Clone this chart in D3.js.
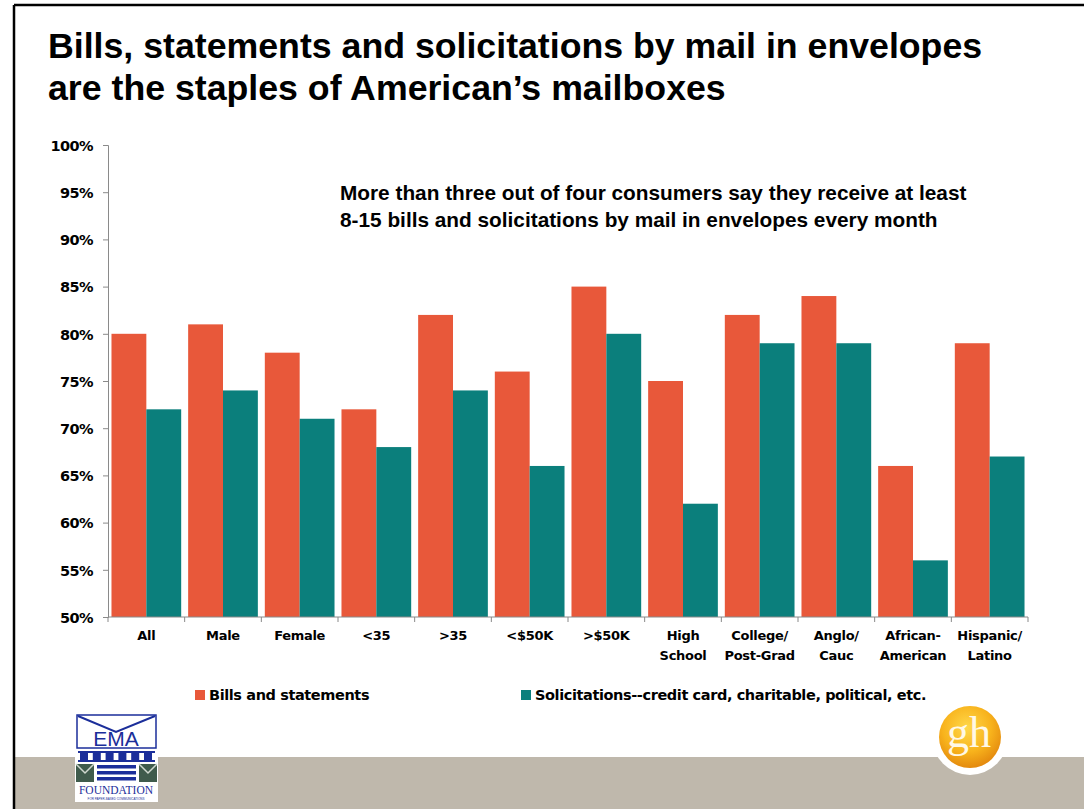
<!DOCTYPE html>
<html>
<head>
<meta charset="utf-8">
<script src="https://cdn.jsdelivr.net/npm/d3@7"></script>
<style>
  html, body { margin: 0; padding: 0; background: #fff; }
  svg { display: block; }
</style>
</head>
<body>
<svg id="chart" width="1084" height="809"></svg>
<script>
// Survey groups along the x axis (line breaks marked with "\n")
const categories = ["All", "Male", "Female", "<35", ">35", "<$50K", ">$50K",
  "High\nSchool", "College/\nPost-Grad", "Anglo/\nCauc", "African-\nAmerican", "Hispanic/\nLatino"];
const seriesNames = ["Bills and statements", "Solicitations--credit card, charitable, political, etc."];
const bills = [80, 81, 78, 72, 82, 76, 85, 75, 82, 84, 66, 79];
const solicitations = [72, 74, 71, 68, 74, 66, 80, 62, 79, 79, 56, 67];
const yTicks = [50, 55, 60, 65, 70, 75, 80, 85, 90, 95, 100];
const colors = ["#E8583A", "#0B7F7C"];

const ARIAL = "Arial, 'Liberation Sans', sans-serif";
const WIDE = "'DejaVu Sans', Verdana, sans-serif";
const SERIF = "'Liberation Serif', 'DejaVu Serif', serif";

const svg = d3.select("#chart");
const W = 1084, H = 809;

// Slide frame: footer band, left and top rules
svg.append("rect").attr("x", 14).attr("y", 757).attr("width", W - 14).attr("height", H - 757)
  .attr("fill", "#BFB8AC");
svg.append("line").attr("x1", 14).attr("x2", 14).attr("y1", 5).attr("y2", H)
  .attr("stroke", "#000").attr("stroke-width", 2.5);
svg.append("line").attr("x1", 14).attr("x2", W).attr("y1", 5).attr("y2", 5)
  .attr("stroke", "#000").attr("stroke-width", 2.5);

// Title
const title = svg.append("text").style("font-family", ARIAL).style("font-weight", "bold")
  .attr("font-size", 35.7).attr("fill", "#000");
title.append("tspan").attr("x", 48).attr("y", 58).text("Bills, statements and solicitations by mail in envelopes");
title.append("tspan").attr("x", 48).attr("y", 100).text("are the staples of American\u2019s mailboxes");

// Scales
const x = d3.scaleBand().domain(categories).range([108, 1028]).paddingInner(0).paddingOuter(0);
const y = d3.scaleLinear().domain([50, 100]).range([617, 145]);
const inner = d3.scaleBand().domain([0, 1]).range([0, x.bandwidth()]).paddingInner(0).paddingOuter(0.1);

// Bars
const groups = svg.append("g").selectAll("g").data(categories).join("g")
  .attr("transform", d => `translate(${x(d)},0)`);
[bills, solicitations].forEach((vals, si) => {
  groups.append("rect")
    .attr("x", inner(si))
    .attr("width", inner.bandwidth())
    .attr("y", (d, i) => y(vals[i]))
    .attr("height", (d, i) => y(50) - y(vals[i]))
    .attr("fill", colors[si]);
});

// Y axis
const yAxis = d3.axisLeft(y).tickValues(yTicks).tickFormat(d => d + "%").tickSize(5).tickPadding(10);
const gy = svg.append("g").attr("transform", "translate(108,0)").call(yAxis);
gy.select(".domain").attr("stroke", "#8a8a8a");
gy.selectAll(".tick line").attr("stroke", "#8a8a8a");
gy.selectAll(".tick text").attr("font-size", 14.5).style("font-family", WIDE).style("font-weight", "bold")
  .attr("fill", "#000").attr("letter-spacing", -0.6).attr("dy", "0.36em");

// X axis: ticks at category boundaries
const xAxisG = svg.append("g");
xAxisG.append("line").attr("x1", 108).attr("x2", 1028).attr("y1", 617).attr("y2", 617)
  .attr("stroke", "#8a8a8a");
x.domain().map(c => x(c)).concat([x.range()[1]]).forEach(xp => {
  xAxisG.append("line").attr("x1", xp).attr("x2", xp).attr("y1", 617).attr("y2", 622)
    .attr("stroke", "#8a8a8a");
});
const xl = xAxisG.selectAll("text.cat").data(categories).join("text")
  .attr("class", "cat")
  .attr("text-anchor", "middle")
  .attr("font-size", 13).style("font-family", WIDE).style("font-weight", "bold")
  .attr("letter-spacing", -0.3).attr("fill", "#000");
xl.each(function (d) {
  const t = d3.select(this);
  d.split("\n").forEach((line, k) => {
    t.append("tspan").attr("x", x(d) + x.bandwidth() / 2).attr("y", 640 + k * 20).text(line);
  });
});

// Annotation
const note = svg.append("text").attr("font-size", 20.8).style("font-family", ARIAL)
  .style("font-weight", "bold").attr("fill", "#000");
note.append("tspan").attr("x", 340).attr("y", 200)
  .text("More than three out of four consumers say they receive at least");
note.append("tspan").attr("x", 340).attr("y", 227)
  .text("8-15 bills and solicitations by mail in envelopes every month");

// Legend
const legendX = [195, 521];
seriesNames.forEach((name, i) => {
  svg.append("rect").attr("x", legendX[i]).attr("y", 690).attr("width", 10).attr("height", 10)
    .attr("fill", colors[i]);
  svg.append("text").attr("x", legendX[i] + 14).attr("y", 700)
    .attr("font-size", 14.5).style("font-family", WIDE).style("font-weight", "bold")
    .attr("letter-spacing", -0.4).attr("fill", "#000").text(name);
});

// EMA Foundation logo
const ema = svg.append("g").attr("transform", "translate(75,713)");
ema.append("rect").attr("width", 83).attr("height", 89).attr("fill", "#fff");
ema.append("rect").attr("x", 2).attr("y", 2).attr("width", 79).attr("height", 33)
  .attr("fill", "#fff").attr("stroke", "#1B2E9A").attr("stroke-width", 1.5);
ema.append("path").attr("d", "M3,3 L41,19 L80,3").attr("fill", "none").attr("stroke", "#1B2E9A").attr("stroke-width", 2);
ema.append("text").attr("x", 41).attr("y", 33).attr("text-anchor", "middle")
  .style("font-family", ARIAL).attr("font-size", 21).attr("fill", "#1B2E9A").text("EMA");
for (let k = 0; k < 6; k++) {
  ema.append("rect").attr("x", 5 + k * 12.8).attr("y", 39).attr("width", 8).attr("height", 9).attr("fill", "#1B2E9A");
}
ema.append("rect").attr("x", 3).attr("y", 38).attr("width", 77).attr("height", 2).attr("fill", "#1B2E9A");
ema.append("rect").attr("x", 3).attr("y", 47).attr("width", 77).attr("height", 2).attr("fill", "#1B2E9A");
[0, 63].forEach(ox => {
  ema.append("rect").attr("x", 1 + ox).attr("y", 51).attr("width", 18).attr("height", 18).attr("fill", "#3F5B4C");
  ema.append("path").attr("d", `M${1 + ox},51 L${10 + ox},60 L${19 + ox},51`).attr("fill", "none")
    .attr("stroke", "#cfd8cf").attr("stroke-width", 1.5);
});
[52, 58, 64].forEach(yy => {
  ema.append("rect").attr("x", 22).attr("y", yy).attr("width", 39).attr("height", 3.5).attr("fill", "#1B2E9A");
});
ema.append("text").attr("x", 41).attr("y", 81).attr("text-anchor", "middle")
  .style("font-family", SERIF).attr("font-size", 11.5).attr("fill", "#1B2E9A").text("FOUNDATION");
ema.append("text").attr("x", 41).attr("y", 87).attr("text-anchor", "middle")
  .style("font-family", ARIAL).attr("font-size", 3).attr("fill", "#1B2E9A").text("FOR PAPER-BASED COMMUNICATIONS");

// gh logo
const defs = svg.append("defs");
const grad = defs.append("radialGradient").attr("id", "ghGrad").attr("cx", "45%").attr("cy", "35%").attr("r", "65%");
grad.append("stop").attr("offset", "0%").attr("stop-color", "#FFD84A");
grad.append("stop").attr("offset", "60%").attr("stop-color", "#F8B31C");
grad.append("stop").attr("offset", "100%").attr("stop-color", "#E48A0E");
const gh = svg.append("g").attr("transform", "translate(970,737)");
gh.append("circle").attr("r", 38).attr("fill", "#fff");
gh.append("circle").attr("r", 31).attr("fill", "url(#ghGrad)");
gh.append("text").attr("x", -1).attr("y", 10).attr("text-anchor", "middle")
  .style("font-family", SERIF).attr("font-size", 44).attr("fill", "#FFF8E6").text("gh");
</script>
</body>
</html>
